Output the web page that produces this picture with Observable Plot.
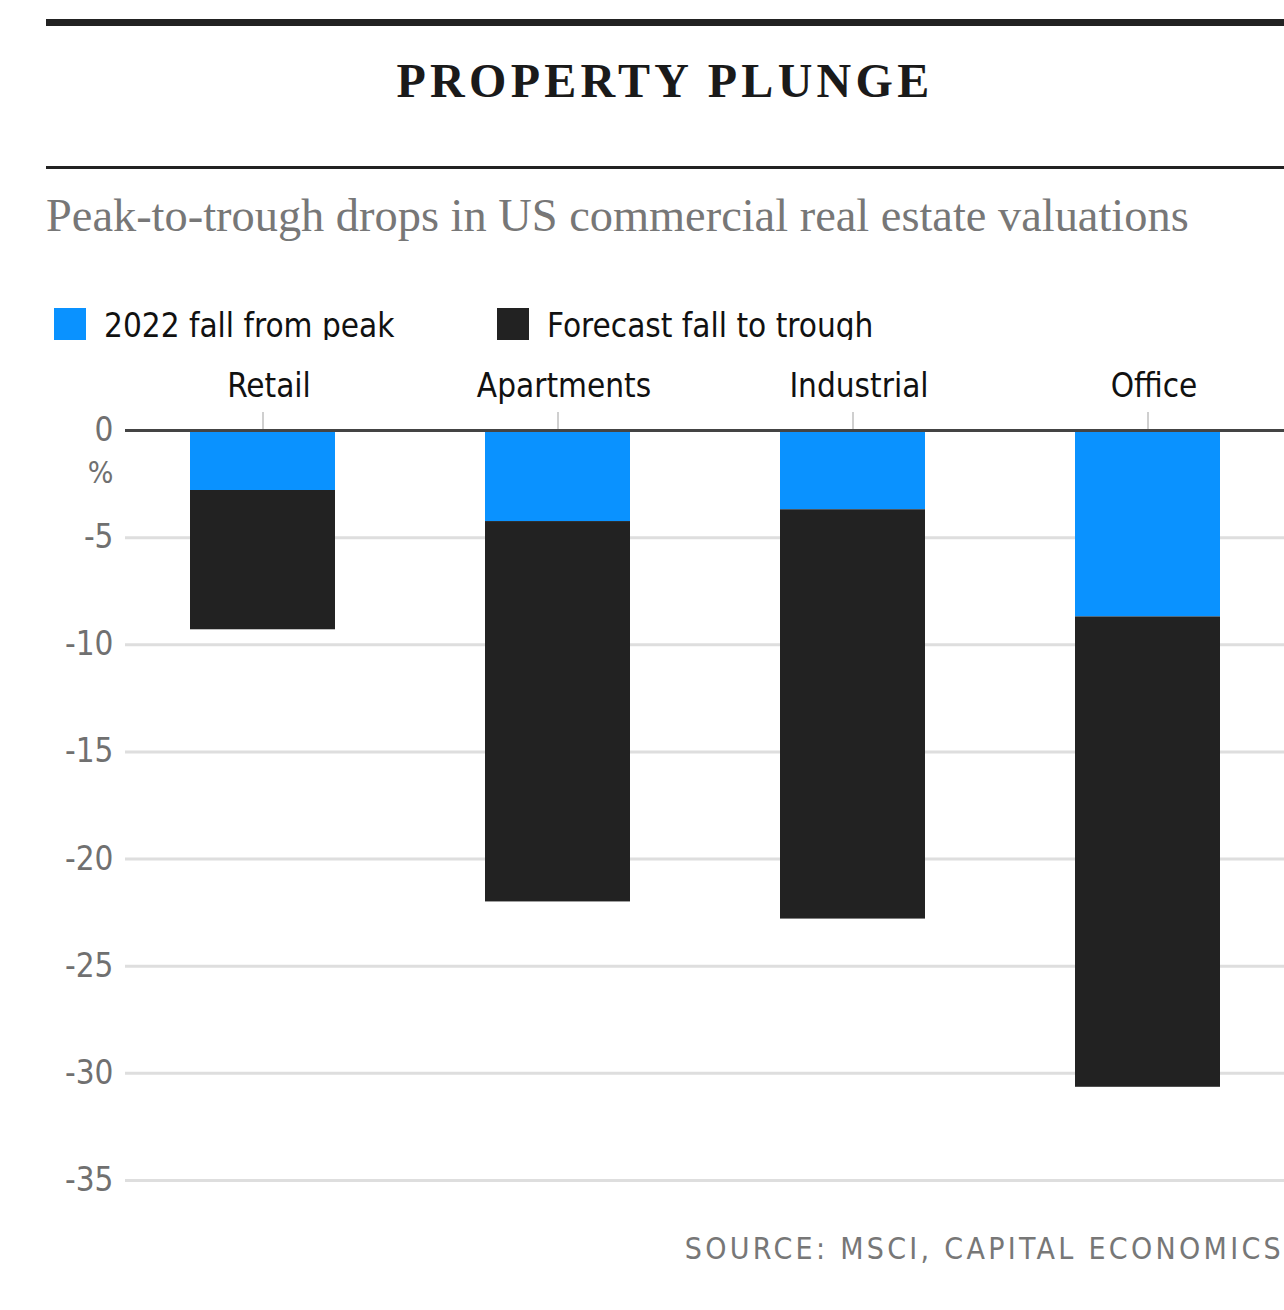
<!DOCTYPE html>
<html>
<head>
<meta charset="utf-8">
<script src="https://cdn.jsdelivr.net/npm/d3@7"></script>
<script src="https://cdn.jsdelivr.net/npm/@observablehq/plot@0.6"></script>
<style>
  html, body { margin: 0; padding: 0; background: #fff; overflow: hidden; }
  #page { position: relative; width: 1284px; height: 1310px; }
  .rule { position: absolute; left: 46px; right: 0; background: #222; }
  #title { position: absolute; left: 46px; right: 0; top: 57px; text-align: center;
    font-family: "Liberation Serif", "DejaVu Serif", serif; font-weight: bold; font-size: 48px;
    line-height: 48px; letter-spacing: 4.3px; color: #1a1a1a; }
  #subtitle { position: absolute; left: 46px; top: 193px; white-space: nowrap;
    font-family: "Liberation Serif", "DejaVu Serif", serif; font-size: 46.4px; line-height: 46px; color: #777; }
  .sans { font-family: "DejaVu Sans Condensed", "DejaVu Sans", sans-serif; font-stretch: condensed; }
  #legend { position: absolute; left: 54px; top: 308px; height: 32px; }
  .item { position: absolute; top: 0; white-space: nowrap; }
  .swatch { position: absolute; left: 0; top: 0; width: 32px; height: 32px; }
  .label { position: absolute; left: 50px; top: 1px; font-size: 33px; line-height: 33px; color: #111; }
  #chart { position: absolute; left: 0; top: 340px; }
  #source { position: absolute; right: 0; top: 1234px; font-size: 30px; line-height: 30px;
    letter-spacing: 3.3px; color: #777; white-space: nowrap; }
</style>
</head>
<body>
<div id="page">
  <div class="rule" style="top:19px;height:7px"></div>
  <div id="title">PROPERTY PLUNGE</div>
  <div class="rule" style="top:166px;height:3px"></div>
  <div id="subtitle">Peak-to-trough drops in US commercial real estate valuations</div>
  <div id="legend" class="sans"></div>
  <div id="chart"></div>
  <div id="source" class="sans">SOURCE: MSCI, CAPITAL ECONOMICS</div>
</div>
<script>
// ---- data ----
const categories = ["Retail", "Apartments", "Industrial", "Office"];
const seriesNames = ["2022 fall from peak", "Forecast fall to trough"];
const fall2022 = [-2.8, -4.25, -3.7, -8.7];          // % fall in 2022 from peak
const forecastFall = [-6.5, -17.75, -19.1, -21.95];  // additional forecast fall to trough
const yTicks = [0, -5, -10, -15, -20, -25, -30, -35];

const seriesColors = ["#0a92ff", "#222222"];

const data = categories.flatMap((c, i) => [
  {category: c, series: seriesNames[0], value: fall2022[i]},
  {category: c, series: seriesNames[1], value: forecastFall[i]}
]);

// legend
const legend = document.getElementById("legend");
const legendX = [0, 443];
seriesNames.forEach((s, i) => {
  const it = document.createElement("div");
  it.className = "item";
  it.style.left = legendX[i] + "px";
  it.innerHTML = `<div class="swatch" style="background:${seriesColors[i]}"></div><div class="label">${s}</div>`;
  legend.appendChild(it);
});

const chart = Plot.plot({
  width: 1284,
  height: 870,
  marginTop: 90,
  marginBottom: 30,
  marginLeft: 125,
  marginRight: 0,
  style: {fontFamily: '"DejaVu Sans Condensed", "DejaVu Sans", sans-serif', fontStretch: "condensed", background: "#fff"},
  x: {type: "band", domain: categories, range: [115, 1295], paddingInner: 0.508, paddingOuter: 0.254, axis: null},
  y: {domain: [-35, 0], axis: null},
  color: {domain: seriesNames, range: seriesColors},
  marks: [
    Plot.ruleY(yTicks.filter(d => d !== 0), {stroke: "#dedede", strokeWidth: 3}),
    Plot.axisY({ticks: yTicks, tickSize: 0, tickPadding: 12, tickFormat: d => String(d),
      fill: "#707070", fontSize: 33, label: null}),
    Plot.text(["%"], {y: () => 0, frameAnchor: "left", textAnchor: "end", dx: -12, dy: 43,
      fill: "#707070", fontSize: 30}),
    Plot.barY(data, {x: "category", y: "value", fill: "series"}),
    Plot.axisX({anchor: "top", tickSize: 19, text: null, stroke: "#cfcfcf", strokeWidth: 2, label: null}),
    Plot.axisX({anchor: "top", tickSize: 0, tickPadding: 34, fill: "#111", fontSize: 33, dx: 6, label: null}),
    Plot.ruleY([0], {stroke: "#444", strokeWidth: 3})
  ]
});
document.getElementById("chart").appendChild(chart);
</script>
</body>
</html>
